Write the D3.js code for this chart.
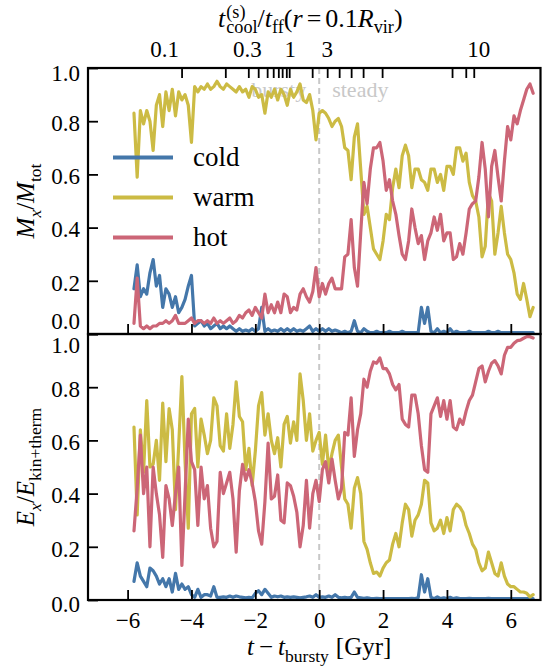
<!DOCTYPE html>
<html><head><meta charset="utf-8">
<script src="https://cdn.jsdelivr.net/npm/d3@7"></script>
<style>
body{margin:0;background:#fff}
svg{display:block}
text{font-family:"Liberation Serif","Times New Roman",serif;fill:#000}
</style>
</head><body>
<svg id="c" width="547" height="670"></svg>
<script>
// ---------------- DATA ----------------
const times = [-5.8,-5.7,-5.6,-5.5,-5.4,-5.3,-5.2,-5.1,-5.0,
 -4.9,-4.8,-4.7,-4.6,-4.5,-4.4,-4.3,-4.2,-4.1,-4.0,
 -3.9,-3.8,-3.7,-3.6,-3.5,-3.4,-3.3,-3.2,-3.1,-3.0,
 -2.9,-2.8,-2.7,-2.6,-2.5,-2.4,-2.3,-2.2,-2.1,-2.0,
 -1.9,-1.8,-1.7,-1.6,-1.5,-1.4,-1.3,-1.2,-1.1,-1.0,
 -0.9,-0.8,-0.7,-0.6,-0.5,-0.4,-0.3,-0.2,-0.1,
 0.0,0.1,0.2,0.3,0.4,0.5,0.6,0.7,0.8,0.9,
 1.0,1.1,1.2,1.3,1.4,1.5,1.6,1.7,1.8,1.9,
 2.0,2.1,2.2,2.3,2.4,2.5,2.6,2.7,2.8,2.9,
 3.0,3.1,3.2,3.3,3.4,3.5,3.6,3.7,3.8,3.9,
 4.0,4.1,4.2,4.3,4.4,4.5,4.6,4.7,4.8,4.9,
 5.0,5.1,5.2,5.3,5.4,5.5,5.6,5.7,5.8,5.9,
 6.0,6.1,6.2,6.3,6.4,6.5,6.6,6.7];

const massCold = [0.17,0.26,0.14,0.17,0.15,0.23,0.28,0.18,0.22,
 0.10,0.17,0.15,0.10,0.14,0.08,0.10,0.13,0.18,0.22,
 0.03,0.04,0.05,0.03,0.04,0.02,0.03,0.04,0.02,0.03,
 0.02,0.03,0.02,0.01,0.02,0.01,0.015,0.01,0.02,0.01,
 0.02,0.10,0.01,0.02,0.01,0.015,0.01,0.02,0.01,0.02,
 0.01,0.02,0.01,0.015,0.01,0.02,0.03,0.01,0.02,
 0.01,0.02,0.01,0.02,0.01,0.015,0.01,0.005,0.01,0.005,
 0.01,0.05,0.01,0.005,0.02,0.01,0.005,0.005,0.01,0.005,
 0.005,0.005,0.01,0.005,0.005,0.005,0.01,0.005,0.005,0.005,
 0.005,0.005,0.10,0.04,0.10,0.01,0.005,0.02,0.005,0.01,
 0.005,0.02,0.005,0.01,0.005,0.005,0.005,0.01,0.005,0.005,
 0.005,0.005,0.005,0.01,0.005,0.005,0.01,0.005,0.005,0.005,
 0.005,0.005,0.005,0.005,0.005,0.005,0.005,0.005];

const massWarm = [0.83,0.59,0.84,0.79,0.84,0.80,0.69,0.86,0.90,
 0.78,0.91,0.84,0.92,0.82,0.91,0.88,0.90,0.86,0.72,
 0.93,0.91,0.93,0.92,0.94,0.92,0.93,0.95,0.93,0.92,
 0.94,0.93,0.92,0.91,0.93,0.91,0.92,0.89,0.93,0.92,
 0.89,0.90,0.83,0.91,0.89,0.92,0.88,0.92,0.90,0.86,
 0.92,0.89,0.91,0.94,0.88,0.87,0.90,0.84,0.73,
 0.83,0.84,0.83,0.81,0.78,0.80,0.81,0.78,0.70,0.69,
 0.58,0.74,0.79,0.62,0.45,0.48,0.40,0.32,0.30,0.28,
 0.35,0.45,0.43,0.55,0.62,0.55,0.67,0.71,0.67,0.55,
 0.62,0.62,0.58,0.57,0.54,0.62,0.62,0.57,0.60,0.54,
 0.63,0.63,0.60,0.70,0.70,0.65,0.68,0.57,0.52,0.50,
 0.44,0.29,0.33,0.53,0.50,0.30,0.38,0.48,0.38,0.30,
 0.28,0.23,0.15,0.13,0.19,0.13,0.065,0.10];

const massHot = [0.04,0.21,0.03,0.02,0.03,0.02,0.03,0.03,0.04,
 0.04,0.05,0.04,0.05,0.07,0.04,0.04,0.04,0.05,0.06,
 0.04,0.05,0.05,0.04,0.05,0.04,0.06,0.04,0.05,0.04,
 0.05,0.06,0.04,0.05,0.07,0.06,0.08,0.09,0.07,0.10,
 0.08,0.06,0.15,0.08,0.11,0.08,0.12,0.08,0.15,0.14,
 0.08,0.10,0.09,0.15,0.17,0.14,0.12,0.16,0.25,
 0.14,0.19,0.15,0.19,0.21,0.17,0.17,0.17,0.29,0.30,
 0.43,0.25,0.18,0.38,0.57,0.49,0.62,0.70,0.70,0.72,
 0.65,0.54,0.58,0.50,0.45,0.37,0.30,0.28,0.35,0.47,
 0.40,0.34,0.37,0.28,0.35,0.38,0.44,0.39,0.45,0.35,
 0.38,0.38,0.28,0.29,0.34,0.30,0.38,0.47,0.49,0.50,
 0.59,0.72,0.62,0.44,0.63,0.69,0.59,0.50,0.65,0.78,
 0.73,0.82,0.79,0.84,0.88,0.92,0.94,0.905];

const energyCold = [0.07,0.14,0.09,0.07,0.05,0.12,0.11,0.09,0.06,
 0.08,0.05,0.08,0.03,0.10,0.04,0.06,0.04,0.05,0.02,
 0.01,0.04,0.01,0.02,0.02,0.015,0.05,0.01,0.01,0.012,
 0.01,0.015,0.01,0.015,0.012,0.01,0.008,0.01,0.008,0.025,
 0.035,0.02,0.04,0.025,0.01,0.015,0.012,0.015,0.01,0.012,
 0.01,0.012,0.01,0.008,0.01,0.012,0.015,0.01,0.02,
 0.01,0.012,0.01,0.015,0.01,0.02,0.01,0.008,0.01,0.008,
 0.01,0.03,0.01,0.008,0.006,0.008,0.006,0.005,0.006,0.005,
 0.005,0.005,0.005,0.005,0.005,0.005,0.005,0.005,0.005,0.006,
 0.005,0.008,0.095,0.03,0.08,0.01,0.005,0.012,0.005,0.008,
 0.005,0.01,0.005,0.008,0.005,0.005,0.005,0.006,0.005,0.005,
 0.005,0.005,0.005,0.006,0.005,0.005,0.005,0.005,0.005,0.005,
 0.005,0.005,0.005,0.005,0.005,0.005,0.005,0.005];

const energyWarm = [0.65,0.32,0.64,0.48,0.75,0.50,0.51,0.60,0.45,
 0.74,0.52,0.72,0.64,0.34,0.58,0.84,0.52,0.27,0.70,
 0.72,0.50,0.68,0.62,0.55,0.60,0.76,0.73,0.58,0.56,
 0.70,0.57,0.66,0.82,0.69,0.67,0.49,0.57,0.43,0.56,
 0.73,0.78,0.62,0.70,0.60,0.55,0.61,0.50,0.66,0.69,
 0.59,0.67,0.60,0.85,0.75,0.60,0.70,0.56,0.60,
 0.63,0.51,0.62,0.49,0.55,0.60,0.62,0.50,0.38,0.36,
 0.27,0.42,0.46,0.40,0.22,0.19,0.14,0.10,0.105,0.09,
 0.12,0.14,0.15,0.21,0.25,0.20,0.29,0.36,0.34,0.24,
 0.30,0.32,0.36,0.45,0.44,0.29,0.26,0.27,0.30,0.25,
 0.31,0.26,0.34,0.36,0.35,0.33,0.28,0.25,0.21,0.19,
 0.14,0.11,0.12,0.18,0.14,0.10,0.09,0.14,0.09,0.06,
 0.05,0.05,0.04,0.03,0.03,0.025,0.012,0.02];

const energyHot = [0.26,0.42,0.62,0.40,0.50,0.20,0.50,0.40,0.32,
 0.16,0.43,0.38,0.28,0.40,0.50,0.13,0.40,0.68,0.52,
 0.49,0.28,0.50,0.38,0.43,0.27,0.20,0.22,0.48,0.40,
 0.44,0.48,0.38,0.18,0.41,0.51,0.45,0.49,0.44,0.37,
 0.26,0.21,0.37,0.59,0.38,0.39,0.47,0.30,0.29,0.44,
 0.43,0.39,0.33,0.20,0.28,0.45,0.27,0.40,0.45,
 0.37,0.49,0.52,0.44,0.53,0.45,0.38,0.42,0.63,0.62,
 0.76,0.54,0.64,0.70,0.83,0.80,0.86,0.895,0.89,0.91,
 0.87,0.87,0.85,0.81,0.79,0.81,0.68,0.66,0.65,0.77,
 0.77,0.70,0.58,0.49,0.48,0.70,0.73,0.76,0.69,0.75,
 0.68,0.75,0.65,0.64,0.68,0.66,0.71,0.75,0.77,0.82,
 0.87,0.88,0.82,0.86,0.89,0.90,0.88,0.85,0.92,0.95,
 0.95,0.965,0.975,0.977,0.984,0.99,0.99,0.985];

const seriesNames = ["cold", "warm", "hot"];
const xTickValues = [-6, -4, -2, 0, 2, 4, 6];
const yTickValues = [0, 0.2, 0.4, 0.6, 0.8, 1.0];
// secondary (top) axis: t_cool/t_ff tick positions expressed in time coordinates
const topTickTimes = [-4.31, -2.94, -2.22, -1.91, -1.63, -1.44, -1.28, -1.16, -1.03, -0.94,
  -0.22, 0.25, 0.625, 1.0, 1.375, 1.97, 4.16, 4.59, 4.84];
const topTickLabels = ["0.1", "0.3", "1", "3", "10"];
const topTickLabelTimes = [-4.84, -2.25, -0.91, 0.25, 5.0];
const phaseLabels = ["bursty", "steady"];

// ---------------- STYLE / LAYOUT ----------------
const colors = {cold: "#4477AA", warm: "#CCBB44", hot: "#CC6677"};
const L = 88, R = 540.5, T = 68, M = 334, B = 600;
const tickFont = 23, labelFont = 25, legendFont = 27;

const svg = d3.select("#c");
const x = d3.scaleLinear().domain([-7.24, 6.93]).range([L, R]);
const yTop = d3.scaleLinear().domain([0, 1]).range([M, T]);
const yBot = d3.scaleLinear().domain([0, 1]).range([B, M]);

function mathLabel(g, pieces, size, supShift = 0.45, subShift = 0.26) {
  let xcur = 0, lastStart = 0;
  pieces.forEach(p => {
    if (p.gap) { xcur += p.gap; return; }
    const fs = p.s ? size * 0.7 : size;
    const dy = p.s === "sub" ? size * subShift : p.s === "sup" ? -size * supShift : 0;
    const xpos = p.stack ? lastStart : xcur;
    const t = g.append("text").attr("x", xpos).attr("y", dy)
      .style("font-size", fs + "px")
      .style("font-style", p.i ? "italic" : "normal")
      .text(p.t);
    const w = t.node().getComputedTextLength();
    if (p.stack) xcur = Math.max(xcur, xpos + w);
    else { lastStart = xpos; xcur = xpos + w; }
  });
  g.selectAll("text").attr("x", function () { return +d3.select(this).attr("x") - xcur / 2; });
  return xcur;
}

function panel(yScale) {
  const g = svg.append("g");
  g.append("line").attr("x1", x(0)).attr("x2", x(0))
    .attr("y1", yScale.range()[1]).attr("y2", yScale.range()[0])
    .attr("stroke", "#c8c8c8").attr("stroke-width", 2).attr("stroke-dasharray", "6,4");
  return g;
}

// ---- top panel ----
const gTop = panel(yTop);
gTop.append("text").attr("x", x(0) - 13).attr("y", 97).attr("text-anchor", "end")
  .style("font-size", "22px").style("fill", "#c8c8c8").text(phaseLabels[0]);
gTop.append("text").attr("x", x(0) + 13).attr("y", 97).attr("text-anchor", "start")
  .style("font-size", "22px").style("fill", "#c8c8c8").text(phaseLabels[1]);

const gBot = panel(yBot);

function drawLines(g, yScale, arrs) {
  const line = d3.line().x((d, i) => x(times[i])).y(d => yScale(d));
  seriesNames.forEach((name, k) => {
    g.append("path").datum(arrs[k]).attr("d", line)
      .attr("fill", "none").attr("stroke", colors[name]).attr("stroke-width", 3.2)
      .attr("stroke-linejoin", "round").attr("stroke-linecap", "round");
  });
}
svg.append("defs").call(d => {
  d.append("clipPath").attr("id", "clipTop").append("rect").attr("x", L).attr("y", T).attr("width", R - L).attr("height", M - T);
  d.append("clipPath").attr("id", "clipBot").append("rect").attr("x", L).attr("y", M).attr("width", R - L).attr("height", B - M);
});
drawLines(gTop.append("g").attr("clip-path", "url(#clipTop)"), yTop, [massCold, massWarm, massHot]);
drawLines(gBot.append("g").attr("clip-path", "url(#clipBot)"), yBot, [energyCold, energyWarm, energyHot]);

// ---- axes ----
function styleAxis(sel) {
  sel.select(".domain").remove();
  sel.selectAll(".tick line").attr("stroke", "#000").attr("stroke-width", 1.8);
  sel.selectAll(".tick text").style("font-size", tickFont + "px").attr("font-family", null);
}
svg.append("g").attr("transform", `translate(0,${M})`)
  .call(d3.axisBottom(x).tickValues(xTickValues).tickSizeInner(-10).tickSizeOuter(0).tickFormat(""))
  .call(styleAxis);
svg.append("g").attr("transform", `translate(0,${B})`)
  .call(d3.axisBottom(x).tickValues(xTickValues).tickSizeInner(-10).tickSizeOuter(0).tickPadding(12).tickFormat(d3.format("d")))
  .call(styleAxis);
svg.append("g").attr("transform", `translate(0,${T})`)
  .call(d3.axisTop(x).tickValues(topTickTimes).tickSizeInner(-10).tickSizeOuter(0).tickFormat(""))
  .call(styleAxis);
svg.append("g").selectAll("text").data(topTickLabels).join("text")
  .attr("x", (d, i) => x(topTickLabelTimes[i])).attr("y", 57)
  .attr("text-anchor", "middle").style("font-size", tickFont + "px").text(d => d);

// y axes
const labelShiftTop = {0: -15, 1: 3};
const labelShiftBot = {0: 2, 1: 9};
function yAxis(yScale, shifts) {
  const g = svg.append("g").attr("transform", `translate(${L},0)`)
    .call(d3.axisLeft(yScale).tickValues(yTickValues).tickSizeInner(-10).tickSizeOuter(0).tickPadding(8).tickFormat(d3.format(".1f")))
    .call(styleAxis);
  g.selectAll(".tick text").attr("dy", d => (0.32 * tickFont + 2 + (shifts[d] || 0)) + "px");
}
yAxis(yTop, labelShiftTop);
yAxis(yBot, labelShiftBot);

// frames
[[T, M], [M, B]].forEach(([a, b]) => {
  svg.append("rect").attr("x", L).attr("y", a).attr("width", R - L).attr("height", b - a)
    .attr("fill", "none").attr("stroke", "#000").attr("stroke-width", 2.2);
});

// legend
const legendY = [157.5, 197.5, 237.5];
seriesNames.forEach((name, k) => {
  svg.append("line").attr("x1", 113).attr("x2", 173).attr("y1", legendY[k]).attr("y2", legendY[k])
    .attr("stroke", colors[name]).attr("stroke-width", 3.8);
  svg.append("text").attr("x", 193).attr("y", legendY[k] + 8).style("font-size", legendFont + "px").text(name);
});

// axis labels
const gx = svg.append("g").attr("transform", `translate(${x(0)},655)`);
mathLabel(gx, [{t: "t", i: true}, {gap: 5}, {t: "\u2212"}, {gap: 5}, {t: "t", i: true}, {t: "bursty", s: "sub"}, {gap: 7}, {t: "[Gyr]"}], labelFont);

const gy1 = svg.append("g").attr("transform", `translate(34,${(T + M) / 2}) rotate(-90)`);
mathLabel(gy1, [{t: "M", i: true}, {t: "x", i: true, s: "sub"}, {t: "/"}, {t: "M", i: true}, {t: "tot", s: "sub"}], labelFont);

const gy2 = svg.append("g").attr("transform", `translate(34,${(M + B) / 2}) rotate(-90)`);
mathLabel(gy2, [{t: "E", i: true}, {t: "x", i: true, s: "sub"}, {t: "/"}, {t: "E", i: true}, {t: "kin+therm", s: "sub"}], labelFont);

const gt = svg.append("g");
const titleW = mathLabel(gt, [{t: "t", i: true}, {gap: 1}, {t: "(s)", s: "sup"}, {t: "cool", s: "sub", stack: true}, {t: "/"},
  {t: "t", i: true}, {t: "ff", s: "sub"}, {t: "("}, {t: "r", i: true}, {gap: 4}, {t: "="}, {gap: 4}, {t: "0.1"},
  {t: "R", i: true}, {t: "vir", s: "sub"}, {t: ")"}], 26, 0.36, 0.22);
gt.attr("transform", `translate(${218 + titleW / 2},27)`);
</script>
</body></html>
